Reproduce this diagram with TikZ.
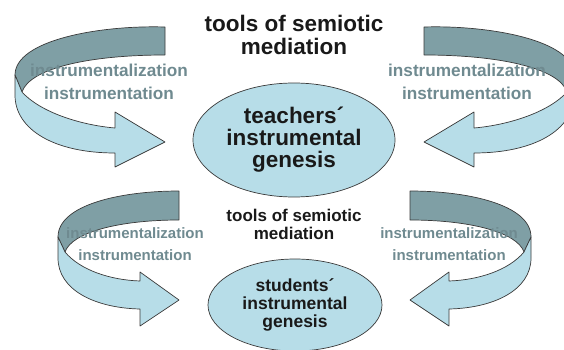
\documentclass[tikz,border=0pt]{standalone}
\usepackage{fontspec}
\setmainfont{Liberation Sans}
\usetikzlibrary{shapes.geometric}

\definecolor{ribbonfront}{HTML}{B7DDE8}
\definecolor{ribbonback}{HTML}{7F9FA5}
\definecolor{labelgray}{HTML}{6F8A90}
\definecolor{edgegray}{HTML}{3A3A3A}

\begin{document}
\begin{tikzpicture}[x=1pt, y=-1pt,
  front/.style={fill=ribbonfront, draw=edgegray, line width=0.7pt, line join=round},
  back/.style={fill=ribbonback, draw=edgegray, line width=0.7pt, line join=round},
  genesis/.style={ellipse, fill=ribbonfront, draw=edgegray, line width=0.7pt,
    inner sep=0pt, align=center, text=black!90},
  tools/.style={align=center, text=black!90},
  process/.style={align=center, text=labelgray}]

\useasboundingbox (0,0) rectangle (564,350);
\clip (0,0) rectangle (564,350);

% Ribbon arrows: left side, then mirrored to the right
\foreach \s/\dx in {1/0, -1/589} {
  \begin{scope}[xshift=\dx pt, xscale=\s]
    % upper loop
    \draw[back] (165,27) .. controls (100,25) and (15,40) .. (15,75)
      -- (22,92) .. controls (30,68) and (90,55) .. (165,55) -- cycle;
    \draw[front] (15,75) -- (22,92) .. controls (40,112) and (80,125) .. (115,128)
      -- (115,112) -- (165,142) -- (115,167) -- (115,153)
      .. controls (55,153) and (15,130) .. (15,95) -- cycle;
    % lower loop
    \draw[back] (179,191) .. controls (120,191) and (58,205) .. (58,237)
      -- (65,252) .. controls (72,232) and (120,220) .. (179,220) -- cycle;
    \draw[front] (58,237) -- (65,252) .. controls (80,270) and (110,280) .. (140,281)
      -- (140,272) -- (179,300) -- (140,326) -- (140,309)
      .. controls (95,308) and (58,290) .. (58,258) -- cycle;
  \end{scope}
}

% Genesis ellipses
\node[genesis, minimum width=202pt, minimum height=114pt,
  font=\bfseries\fontsize{22.5}{22}\selectfont] (teachers) at (294,140)
  {teachers´\\instrumental\\genesis};
\node[genesis, minimum width=174pt, minimum height=92pt,
  font=\bfseries\fontsize{17.5}{18}\selectfont] (students) at (295,305)
  {students´\\instrumental\\genesis};

% Mediation titles
\node[tools, font=\bfseries\fontsize{22.5}{23}\selectfont] (toolsup) at (294,35)
  {tools of semiotic\\mediation};
\node[tools, font=\bfseries\fontsize{17}{18}\selectfont] (toolslow) at (294,224)
  {tools of semiotic\\mediation};

% Labels on the ribbons
\node[process, font=\bfseries\fontsize{17.2}{23}\selectfont] (procul) at (109,82)
  {instrumentalization\\instrumentation};
\node[process, font=\bfseries\fontsize{17.2}{23}\selectfont] (procur) at (467,82)
  {instrumentalization\\instrumentation};
\node[process, font=\bfseries\fontsize{15}{22}\selectfont] (procll) at (135,244.5)
  {instrumentalization\\instrumentation};
\node[process, font=\bfseries\fontsize{15}{22}\selectfont] (proclr) at (449,244.5)
  {instrumentalization\\instrumentation};

\end{tikzpicture}
\end{document}
